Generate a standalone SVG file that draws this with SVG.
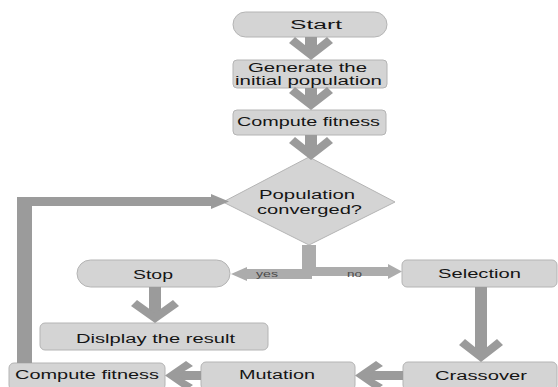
<svg xmlns="http://www.w3.org/2000/svg" width="558" height="387" viewBox="0 0 558 387">
<style>
.box{fill:#d4d4d4;stroke:#b4b4b4;stroke-width:1}
.t{font-family:"Liberation Sans",Arial,sans-serif;font-size:12.5px;fill:#151515}
.lbl{font-family:"Liberation Sans",Arial,sans-serif;font-size:9px;fill:#4a4a4a}
.ar{fill:#9b9b9b}
.ar2{fill:#acacac}
</style>
<rect width="558" height="387" fill="#ffffff"/>
<g id="start"><rect class="box" x="233" y="12" width="154" height="25" rx="12.5"/><text class="t" x="290" y="29" textLength="52" lengthAdjust="spacingAndGlyphs">Start</text></g>
<g id="generate"><rect class="box" x="233" y="60" width="154" height="28" rx="4"/><text class="t" x="248" y="72" textLength="119" lengthAdjust="spacingAndGlyphs">Generate the</text><text class="t" x="235" y="85" textLength="147" lengthAdjust="spacingAndGlyphs">initial population</text></g>
<g id="fitness1"><rect class="box" x="233" y="110" width="153" height="25" rx="4"/><text class="t" x="237" y="126" textLength="143" lengthAdjust="spacingAndGlyphs">Compute fitness</text></g>
<g id="converged"><polygon class="box" points="309,157 395,202 309,245 223,202"/><text class="t" x="259" y="199" textLength="96" lengthAdjust="spacingAndGlyphs">Population</text><text class="t" x="257" y="213.5" textLength="105" lengthAdjust="spacingAndGlyphs">converged?</text></g>
<g id="stop"><rect class="box" x="77" y="260" width="153" height="27" rx="13.5"/><text class="t" x="133" y="279" textLength="40" lengthAdjust="spacingAndGlyphs">Stop</text></g>
<g id="display"><rect class="box" x="40" y="323" width="228" height="27" rx="5"/><text class="t" x="76" y="343" textLength="159" lengthAdjust="spacingAndGlyphs">Dislplay the result</text></g>
<g id="selection"><rect class="box" x="402" y="260" width="155" height="27" rx="5"/><text class="t" x="438" y="278" textLength="83" lengthAdjust="spacingAndGlyphs">Selection</text></g>
<g id="crossover"><rect class="box" x="403" y="362" width="154" height="28" rx="5"/><text class="t" x="435" y="379.5" textLength="92" lengthAdjust="spacingAndGlyphs">Crassover</text></g>
<g id="mutation"><rect class="box" x="201" y="362" width="154" height="28" rx="5"/><text class="t" x="239" y="378.5" textLength="76" lengthAdjust="spacingAndGlyphs">Mutation</text></g>
<g id="fitness2"><rect class="box" x="9" y="363" width="156" height="27" rx="5"/><text class="t" x="15" y="379" textLength="144" lengthAdjust="spacingAndGlyphs">Compute fitness</text></g>
<g id="connectors">
<rect class="ar" x="305" y="37" width="12" height="14"/>
<path class="ar" d="M311,60 L289,43 L295,37 L311,50 L327,37 L333,43 Z"/>
<rect class="ar" x="305" y="88" width="12" height="13"/>
<path class="ar" d="M311,110 L289,93 L295,87 L311,100 L327,87 L333,93 Z"/>
<rect class="ar" x="305" y="135" width="12" height="16"/>
<path class="ar" d="M311,160 L289,143 L295,137 L311,150 L327,137 L333,143 Z"/>
<rect class="ar2" x="302" y="245" width="10" height="34"/>
<rect class="ar2" x="244" y="269" width="68" height="10"/>
<polygon class="ar2" points="231,274 247,267 247,281"/>
<rect class="ar2" x="306" y="245" width="10" height="31"/>
<rect class="ar2" x="306" y="267" width="84" height="9"/>
<polygon class="ar2" points="402,271.5 388,264 388,279"/>
<text class="lbl" x="256" y="277" textLength="22" lengthAdjust="spacingAndGlyphs">yes</text>
<text class="lbl" x="347" y="276.5" textLength="15" lengthAdjust="spacingAndGlyphs">no</text>
<rect class="ar" x="149" y="287" width="12" height="27"/>
<path class="ar" d="M155,323 L131,306 L137,300 L155,313 L173,300 L179,306 Z"/>
<rect class="ar" x="475" y="287" width="12" height="66"/>
<path class="ar" d="M481,362 L459,345 L465,339 L481,352 L497,339 L503,345 Z"/>
<rect class="ar" x="366" y="371" width="37" height="9"/>
<path class="ar" d="M355,375.5 L376,361 L383,366 L367,375.5 L383,385 L376,390 Z"/>
<rect class="ar" x="176" y="371" width="25" height="9"/>
<path class="ar" d="M165,375.5 L186,361 L193,366 L177,375.5 L193,385 L186,390 Z"/>
<rect class="ar" x="17" y="197" width="15" height="166"/>
<rect class="ar" x="17" y="197" width="195" height="9"/>
<polygon class="ar" points="229,201.5 211,194 211,209"/>
</g>
</svg>
